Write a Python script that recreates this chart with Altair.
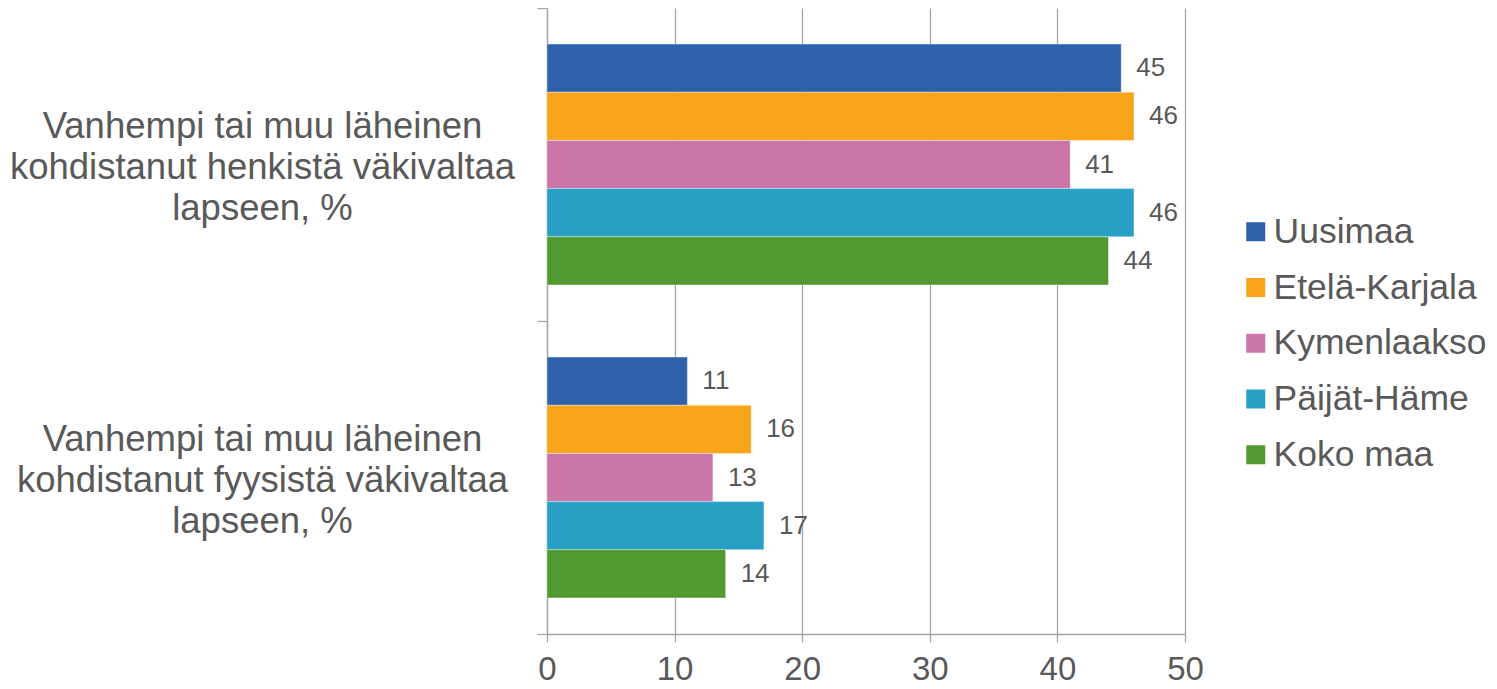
import altair as alt
import pandas as pd

categories = [
    "Vanhempi tai muu läheinen|kohdistanut henkistä väkivaltaa|lapseen, %",
    "Vanhempi tai muu läheinen|kohdistanut fyysistä väkivaltaa|lapseen, %",
]
regions = ["Uusimaa", "Etelä-Karjala", "Kymenlaakso", "Päijät-Häme", "Koko maa"]
colors = ["#2F60AC", "#F8A51A", "#CA76A9", "#27A0C3", "#519A31"]
henkinen = [45, 46, 41, 46, 44]
fyysinen = [11, 16, 13, 17, 14]

rows = []
for r, v in zip(regions, henkinen):
    rows.append({"cat": categories[0], "region": r, "value": v})
for r, v in zip(regions, fyysinen):
    rows.append({"cat": categories[1], "region": r, "value": v})
df = pd.DataFrame(rows)

TXT = "#595959"
GRID = "#a6a6a6"

y_enc = alt.Y(
    "cat:N",
    sort=categories,
    title=None,
    scale=alt.Scale(paddingInner=0, paddingOuter=0),
    axis=alt.Axis(
        labelExpr="split(datum.label, '|')",
        labelFontSize=36.5,
        labelColor=TXT,
        labelFont="Liberation Sans",
        labelAlign="center",
        labelBaseline="middle",
        labelLineHeight=41,
        labelPadding=275,
        labelOffset=-38,
        tickSize=10,
        tickBand="extent",
        tickColor=GRID,
        tickWidth=1.3,
        domainColor=GRID,
        domainWidth=1.3,
        grid=False,
        labelLimit=0,
    ),
)
yoff_enc = alt.YOffset(
    "region:N",
    sort=regions,
    scale=alt.Scale(paddingInner=0, paddingOuter=0.75),
)
x_enc = alt.X(
    "value:Q",
    title=None,
    scale=alt.Scale(domain=[0, 50], nice=False),
    axis=alt.Axis(
        values=[0, 10, 20, 30, 40, 50],
        labelFontSize=33,
        labelColor=TXT,
        labelFont="Liberation Sans",
        labelPadding=11,
        tickSize=8,
        tickColor=GRID,
        tickWidth=1.3,
        domainColor=GRID,
        domainWidth=1.3,
        gridColor=GRID,
        gridWidth=1.3,
        labelFlush=False,
    ),
)

bars = alt.Chart(df).mark_bar(stroke="white", strokeWidth=0.6, strokeOpacity=0.6).encode(
    x=x_enc,
    y=y_enc,
    yOffset=yoff_enc,
    color=alt.Color(
        "region:N",
        sort=regions,
        scale=alt.Scale(domain=regions, range=colors),
        legend=alt.Legend(
            title=None,
            orient="none",
            legendX=691,
            legendY=206,
            padding=0,
            symbolType="square",
            symbolSize=361,
            symbolStrokeWidth=0,
            labelFontSize=35.5,
            labelFont="Liberation Sans",
            labelColor=TXT,
            labelOffset=0,
            rowPadding=18.75,
            labelLimit=0,
        ),
    ),
)

labels = alt.Chart(df).mark_text(
    align="left", baseline="middle", dx=15, fontSize=26, font="Liberation Sans", color=TXT
).encode(
    x="value:Q",
    y=alt.Y("cat:N", sort=categories),
    yOffset=alt.YOffset("region:N", sort=regions),
    text="value:Q",
)

chart = (
    alt.layer(bars, labels)
    .properties(
        width=638,
        height=626,
        autosize=alt.AutoSizeParams(type="none"),
        padding={"left": 539, "top": 0, "right": 303, "bottom": 54},
    )
    .configure_view(stroke=None)
)

chart.save("out.html", embed_options={"renderer": "svg", "actions": False})
